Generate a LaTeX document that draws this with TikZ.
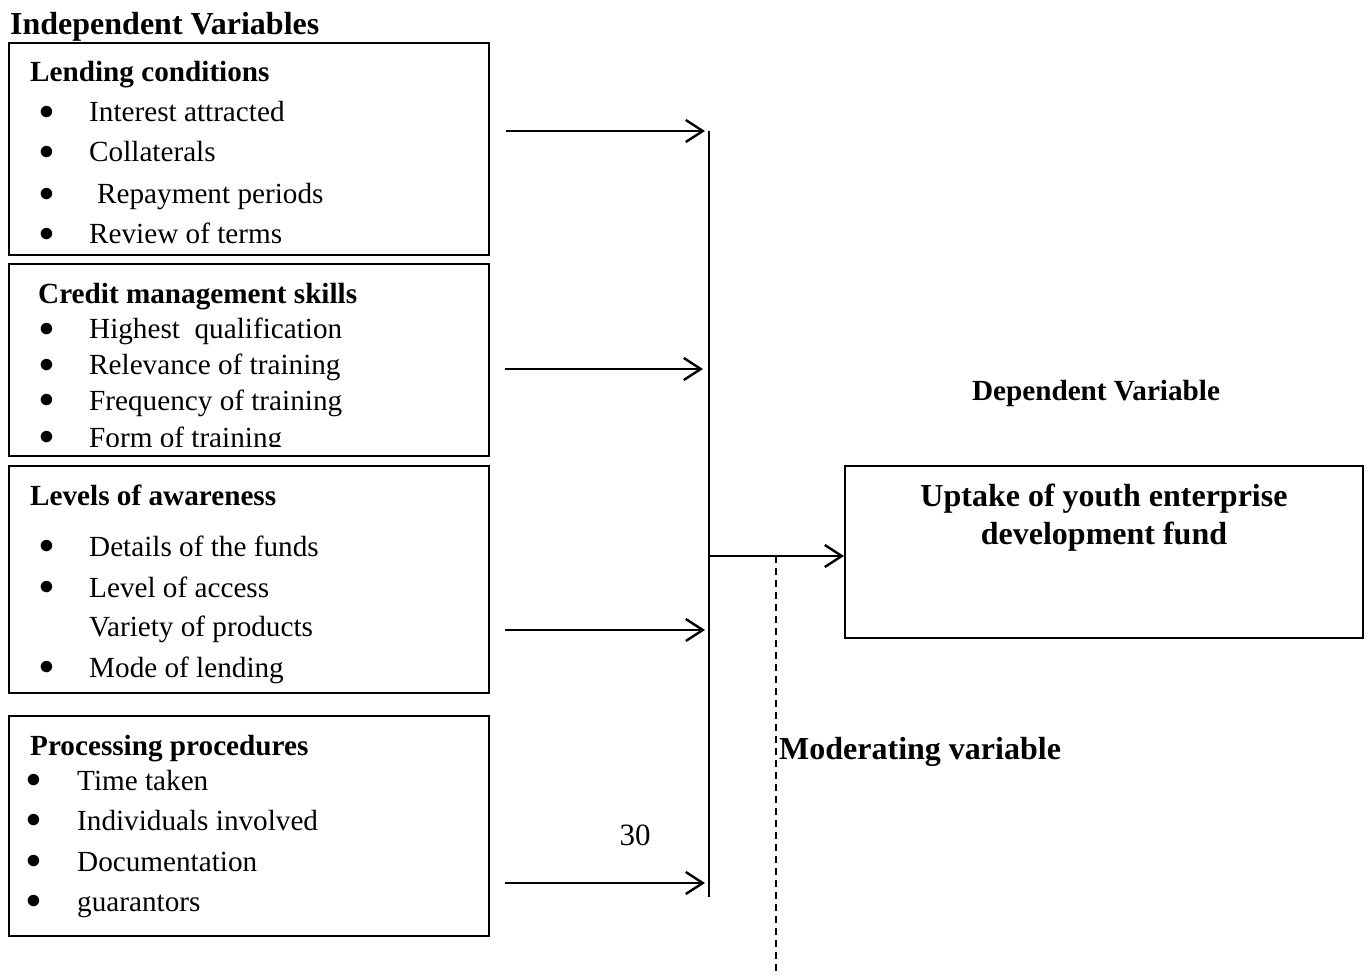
\documentclass[tikz,border=0pt]{standalone}
\usepackage{fontspec}
\setmainfont{Liberation Serif}
\usetikzlibrary{arrows.meta}

\newcommand{\bul}[1][50pt]{\makebox[#1][l]{\raisebox{2.5pt}{\scalebox{1.2}{$\bullet$}}}}

\tikzset{
  varbox/.style={draw, line width=2pt, anchor=north west, inner sep=0},
  item/.style={anchor=base west, inner sep=0, font=\fontsize{29.2}{35}\selectfont},
  boxhead/.style={anchor=base west, inner sep=0, font=\fontsize{29.2}{35}\selectfont\bfseries},
  bighead/.style={anchor=base west, inner sep=0, font=\fontsize{32}{38}\selectfont\bfseries},
  flow/.style={line width=2.4pt, -{Straight Barb[length=17pt,width=22pt,line width=2.4pt]}},
}

\begin{document}
\begin{tikzpicture}[x=1pt,y=-1pt]
  \useasboundingbox (0,0) rectangle (1369,976);

  \node[bighead] (indep) at (10,35) {Independent Variables};

  % lending conditions
  \node[varbox, minimum width=480, minimum height=212] (lend) at (8,42) {};
  \node[boxhead] (lendhead) at (30,82) {Lending conditions};
  \node[item] (lend1) at (39,122) {\bul Interest attracted};
  \node[item] (lend2) at (39,162) {\bul Collaterals};
  \node[item] (lend3) at (39,204) {\bul[58pt]Repayment periods};
  \node[item] (lend4) at (39,244) {\bul Review of terms};

  % credit management skills
  \node[varbox, minimum width=480, minimum height=192] (credit) at (8,263) {};
  \node[boxhead] (credhead) at (38,304) {Credit management skills};
  \node[item] (cred1) at (39,339) {\bul Highest\ \ qualification};
  \node[item] (cred2) at (39,375) {\bul Relevance of training};
  \node[item] (cred3) at (39,410) {\bul Frequency of training};
  \begin{scope}
    \clip (8,263) rectangle (488,446);
    \node[item] (cred4) at (39,447) {\bul Form of training};
  \end{scope}

  % levels of awareness
  \node[varbox, minimum width=480, minimum height=227] (aware) at (8,465) {};
  \node[boxhead] (awhead) at (30,505) {Levels of awareness};
  \node[item] (aw1) at (39,556) {\bul Details of the funds};
  \node[item] (aw2) at (39,597) {\bul Level of access};
  \node[item] (aw3) at (89,636) {Variety of products};
  \node[item] (aw4) at (39,677) {\bul Mode of lending};

  % processing procedures
  \node[varbox, minimum width=480, minimum height=220] (proc) at (8,715) {};
  \node[boxhead] (prochead) at (30,755) {Processing procedures};
  \node[item] (proc1) at (26,790) {\bul[51pt]Time taken};
  \node[item] (proc2) at (26,830) {\bul[51pt]Individuals involved};
  \node[item] (proc3) at (26,871) {\bul[51pt]Documentation};
  \node[item] (proc4) at (26,911) {\bul[51pt]guarantors};

  % dependent side
  \node[boxhead, anchor=base] (deplabel) at (1096,401) {Dependent Variable};
  \node[varbox, minimum width=518, minimum height=172] (dep) at (844,465) {};
  \node[bighead, anchor=base] (uptake1) at (1104,506) {Uptake of youth enterprise};
  \node[bighead, anchor=base] (uptake2) at (1104,544) {development fund};
  \node[bighead] (modlabel) at (779,759) {Moderating variable};
  \node[item, anchor=base, font=\fontsize{31}{36}\selectfont] (pagenum) at (635,845) {30};

  \coordinate (in1) at (506,131);
  \coordinate (in2) at (505,369);
  \coordinate (in3) at (505,630);
  \coordinate (in4) at (505,883);
  \coordinate (bustop) at (709,131);
  \coordinate (busbot) at (709,897);
  \coordinate (busmid) at (709,556);
  \coordinate (modtop) at (776,556);
  \coordinate (modbot) at (776,976);

  \draw[flow] (in1) -- ([xshift=-4]in1 -| bustop);
  \draw[flow] (in2) -- ([xshift=-6]in2 -| bustop);
  \draw[flow] (in3) -- ([xshift=-4]in3 -| bustop);
  \draw[flow] (in4) -- ([xshift=-4]in4 -| bustop);
  \draw[line width=2.4pt] (bustop) -- (busbot);
  \draw[flow] (busmid) -- (busmid -| dep.west);
  \draw[line width=2pt, dash pattern=on 7pt off 5pt] (modtop) -- (modbot);
\end{tikzpicture}
\end{document}
